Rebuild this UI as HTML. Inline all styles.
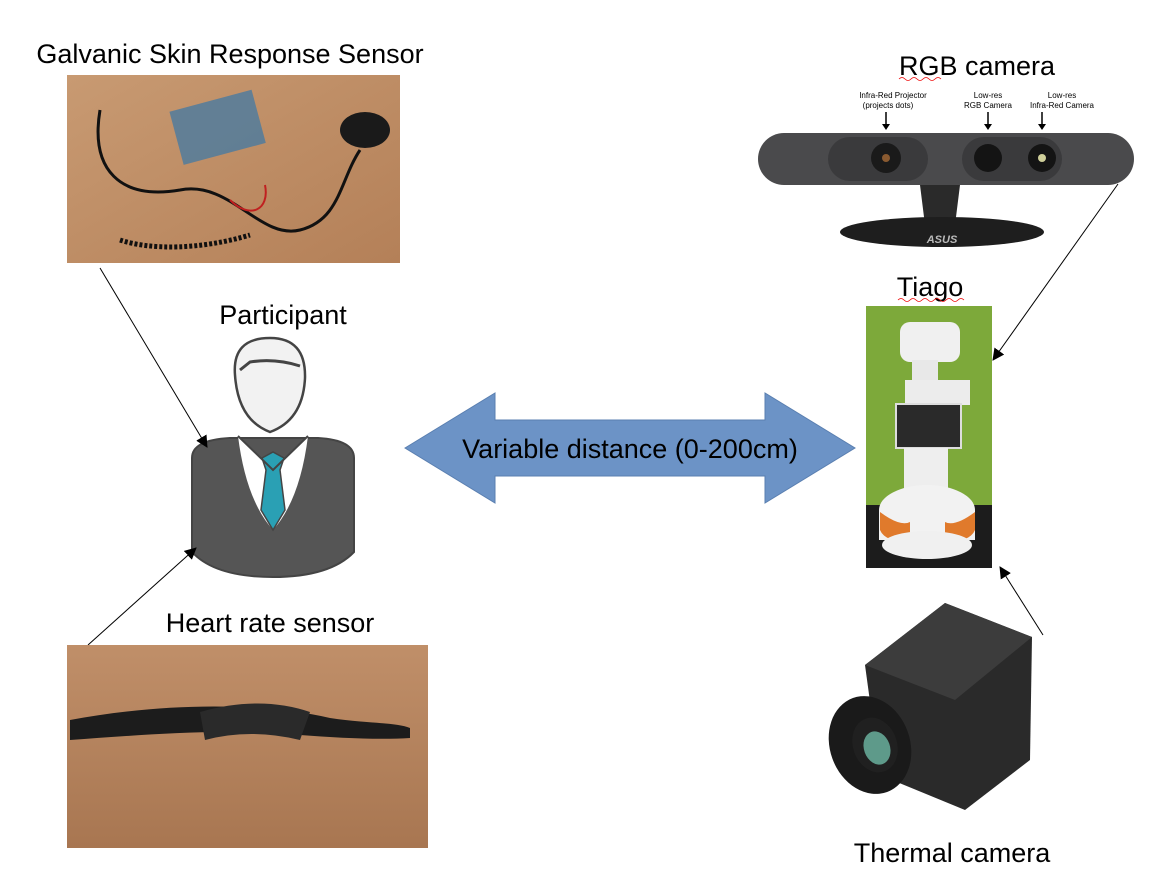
<!DOCTYPE html>
<html><head><meta charset="utf-8"><style>
html,body{margin:0;padding:0;background:#fff;}
svg{display:block;font-family:"Liberation Sans",sans-serif;}
</style></head><body>
<svg width="1174" height="878" viewBox="0 0 1174 878" xmlns="http://www.w3.org/2000/svg">
<defs>
<marker id="ah" markerWidth="12" markerHeight="12" refX="11" refY="6" orient="auto" markerUnits="userSpaceOnUse"><path d="M0,0 L12,6 L0,12 z" fill="#000"/></marker>
<linearGradient id="wood" x1="0" y1="0" x2="1" y2="1"><stop offset="0" stop-color="#c89a72"/><stop offset="1" stop-color="#b48058"/></linearGradient>
<linearGradient id="wood2" x1="0" y1="0" x2="0" y2="1"><stop offset="0" stop-color="#c08f69"/><stop offset="1" stop-color="#a87651"/></linearGradient>
</defs>

<!-- GSR -->
<text x="230" y="63" font-size="27" text-anchor="middle">Galvanic Skin Response Sensor</text>
<rect x="67" y="75" width="333" height="188" fill="url(#wood)"/>
<rect x="175" y="100" width="85" height="55" fill="#4a7aa0" opacity="0.8" transform="rotate(-15 217 127)"/>
<ellipse cx="365" cy="130" rx="25" ry="18" fill="#1a1a1a"/>
<path d="M100,110 C90,170 120,200 180,190 C230,180 260,240 300,230 C340,220 340,180 360,150" stroke="#111" stroke-width="3" fill="none"/>
<path d="M120,240 C150,250 200,250 250,235" stroke="#111" stroke-width="5" fill="none" stroke-dasharray="3 2"/>
<path d="M230,200 C250,220 270,210 265,185" stroke="#c02020" stroke-width="2" fill="none"/>

<!-- Participant icon -->
<text x="283" y="324" font-size="27" text-anchor="middle">Participant</text>
<path d="M192,458 Q192,440 230,438 L318,438 Q354,440 354,458 L354,552 Q330,577 273,577 Q215,577 192,552 Z" fill="#555" stroke="#444" stroke-width="2"/>
<path d="M238,436 L273,470 L308,436 Q300,500 273,530 Q246,500 238,436 Z" fill="#fff"/>
<path d="M262,458 L273,452 L284,458 L280,470 L285,510 L273,530 L261,510 L266,470 Z" fill="#2aa0b4" stroke="#444" stroke-width="1.5"/>
<path d="M238,436 L273,470 L308,436" stroke="#444" stroke-width="2" fill="none"/>
<path d="M235,375 Q232,338 270,338 Q306,338 305,378 Q303,420 270,432 Q238,420 235,375 Z" fill="#f2f2f2" stroke="#444" stroke-width="2.5"/>
<path d="M240,370 L250,362 Q275,358 300,366" stroke="#444" stroke-width="3" fill="none"/>

<line x1="100" y1="268" x2="207" y2="447" stroke="#000" stroke-width="1" marker-end="url(#ah)"/>
<line x1="88" y1="645" x2="196" y2="548" stroke="#000" stroke-width="1" marker-end="url(#ah)"/>

<!-- Heart rate -->
<text x="270" y="632" font-size="27" text-anchor="middle">Heart rate sensor</text>
<rect x="67" y="645" width="361" height="203" fill="url(#wood2)"/>
<path d="M70,720 C150,705 250,700 330,718 C370,724 395,722 410,728 L410,738 C380,740 340,738 300,735 C220,728 140,735 70,740 Z" fill="#1c1c1c"/>
<path d="M200,712 Q260,695 310,712 L300,740 Q250,728 205,740 Z" fill="#2a2a2a"/>

<!-- Double arrow -->
<path d="M405,448 L495,393 L495,420 L765,420 L765,393 L855,448 L765,503 L765,476 L495,476 L495,503 Z" fill="#6c93c6" stroke="#5a7fb0" stroke-width="1"/>
<text x="630" y="458" font-size="27" text-anchor="middle">Variable distance (0-200cm)</text>

<!-- RGB camera -->
<text x="977" y="75" font-size="27" text-anchor="middle">RGB camera</text>
<path d="M899,79 q3,-3 6,0 q3,3 6,0 q3,-3 6,0 q3,3 6,0 q3,-3 6,0 q3,3 6,0 q3,-3 6,0" stroke="#e00" stroke-width="0.8" fill="none"/>
<text x="893" y="98" font-size="8" text-anchor="middle">Infra-Red Projector</text>
<text x="888" y="108" font-size="8" text-anchor="middle">(projects dots)</text>
<text x="988" y="98" font-size="8" text-anchor="middle">Low-res</text>
<text x="988" y="108" font-size="8" text-anchor="middle">RGB Camera</text>
<text x="1062" y="98" font-size="8" text-anchor="middle">Low-res</text>
<text x="1062" y="108" font-size="8" text-anchor="middle">Infra-Red Camera</text>
<path d="M886,112 v14 M988,112 v14 M1042,112 v14" stroke="#000" stroke-width="1.5"/>
<path d="M882,124 l4,6 l4,-6z M984,124 l4,6 l4,-6z M1038,124 l4,6 l4,-6z" fill="#000"/>
<path d="M920,185 L960,185 L955,225 L925,225 Z" fill="#2a2a2a"/>
<ellipse cx="942" cy="232" rx="102" ry="15" fill="#1e1e1e"/>
<rect x="758" y="133" width="376" height="52" rx="26" fill="#4a4a4c"/>
<rect x="828" y="137" width="100" height="44" rx="22" fill="#3a3a3c"/>
<rect x="962" y="137" width="100" height="44" rx="22" fill="#3a3a3c"/>
<circle cx="886" cy="158" r="15" fill="#1a1a1a"/><circle cx="886" cy="158" r="4" fill="#8a5a30"/>
<circle cx="988" cy="158" r="14" fill="#141414"/>
<circle cx="1042" cy="158" r="14" fill="#141414"/><circle cx="1042" cy="158" r="4" fill="#cfcf9a"/>
<text x="942" y="243" font-size="11" fill="#bbb" text-anchor="middle" font-style="italic" font-weight="bold">ASUS</text>

<!-- Tiago -->
<text x="930" y="296" font-size="27" text-anchor="middle">Tiago</text>
<path d="M898,300 q3,-3 6,0 q3,3 6,0 q3,-3 6,0 q3,3 6,0 q3,-3 6,0 q3,3 6,0 q3,-3 6,0 q3,3 6,0 q3,-3 6,0 q3,3 6,0 q3,-3 6,0" stroke="#e00" stroke-width="0.8" fill="none"/>
<rect x="866" y="306" width="126" height="262" fill="#7da93a"/>
<rect x="866" y="505" width="126" height="63" fill="#1c1c1c"/>
<rect x="900" y="322" width="60" height="40" rx="10" fill="#f0f0f0"/>
<rect x="912" y="360" width="26" height="25" fill="#e8e8e8"/>
<rect x="905" y="380" width="65" height="25" fill="#ececec"/>
<rect x="896" y="404" width="65" height="44" fill="#2a2a2a" stroke="#ddd" stroke-width="2"/>
<rect x="904" y="448" width="44" height="45" fill="#eee"/>
<ellipse cx="927" cy="510" rx="48" ry="25" fill="#f2f2f2"/>
<rect x="879" y="510" width="96" height="30" fill="#f2f2f2"/>
<path d="M880,512 q20,15 30,10 v20 q-25,0 -30,-12z M975,512 q-20,15 -30,10 v20 q25,0 30,-12z" fill="#e07a2c"/>
<ellipse cx="927" cy="545" rx="45" ry="14" fill="#f0f0f0"/>

<line x1="1118" y1="184" x2="993" y2="360" stroke="#000" stroke-width="1" marker-end="url(#ah)"/>
<line x1="1043" y1="635" x2="1000" y2="567" stroke="#000" stroke-width="1" marker-end="url(#ah)"/>

<!-- Thermal camera -->
<path d="M865,665 L945,603 L1032,637 L1030,760 L965,810 L880,775 Z" fill="#2a2a2a"/>
<path d="M865,665 L945,603 L1032,637 L955,700 Z" fill="#3c3c3c"/>
<ellipse cx="870" cy="745" rx="40" ry="50" fill="#1a1a1a" transform="rotate(-20 870 745)"/>
<ellipse cx="875" cy="745" rx="22" ry="28" fill="#202020" transform="rotate(-20 875 745)"/>
<ellipse cx="877" cy="748" rx="13" ry="17" fill="#5e9a8a" transform="rotate(-20 877 748)"/>
<text x="952" y="862" font-size="27" text-anchor="middle">Thermal camera</text>
</svg>
</body></html>
